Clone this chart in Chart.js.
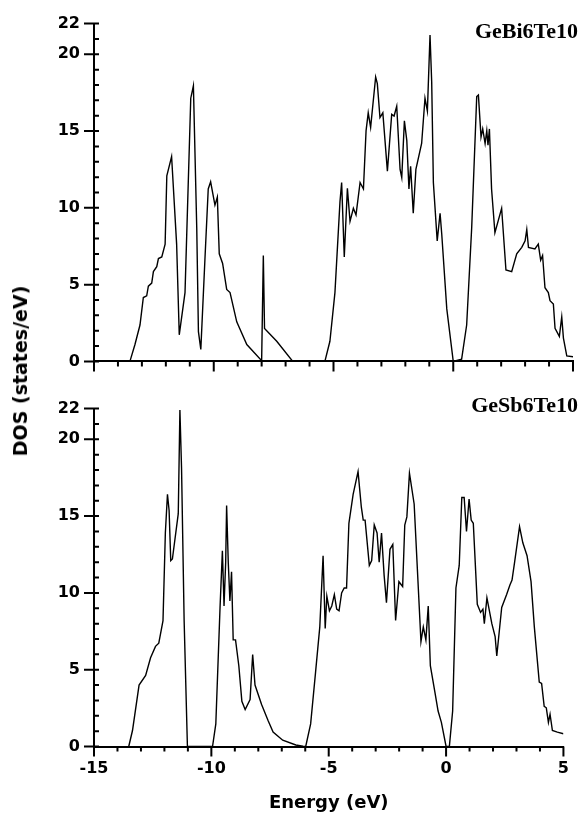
<!DOCTYPE html>
<html>
<head>
<meta charset="utf-8">
<script src="https://cdn.jsdelivr.net/npm/chart.js@4.4.0/dist/chart.umd.min.js"></script>
<style>
  body { margin: 0; background: #fff; }
  #wrap { position: relative; width: 582px; height: 816px; overflow: hidden; }
  canvas { position: absolute; left: 0; }
  #cTop { top: 0; }
  #cBot { top: 385px; }
  .name { position: absolute; right: 4px; font: bold 22px "Liberation Serif", serif; line-height: 1; white-space: nowrap; }
  #ytitle { position: absolute; left: 20px; top: 371px; transform: translate(-50%, -50%) rotate(-90deg);
            font: bold 19px "DejaVu Sans", sans-serif; white-space: nowrap; }
</style>
</head>
<body>
<div id="wrap">
  <canvas id="cTop" width="582" height="385"></canvas>
  <canvas id="cBot" width="582" height="431"></canvas>
  <div class="name" style="top:20px">GeBi6Te10</div>
  <div class="name" style="top:394px">GeSb6Te10</div>
  <div id="ytitle">DOS (states/eV)</div>
</div>
<script>
// GeBi6Te10 (top panel)
const energyTop = [-13.50,-13.29,-13.08,-12.94,-12.80,-12.73,-12.59,-12.52,-12.38,-12.31,-12.17,-12.03,-11.96,-11.76,-11.55,
  -11.44,-11.20,-10.96,-10.85,-10.71,-10.64,-10.54,-10.37,-10.23,-10.13,-9.95,-9.85,-9.77,-9.63,-9.46,
  -9.32,-9.04,-8.62,-8.00,-7.93,-7.88,-7.37,-6.70,
  -5.36,-5.15,-4.94,-4.73,-4.66,-4.55,-4.42,-4.31,-4.17,-4.06,-3.89,-3.75,-3.64,-3.55,-3.45,
  -3.24,-3.17,-3.06,-2.94,-2.75,-2.57,-2.47,-2.36,-2.22,-2.15,-2.04,-1.94,-1.85,-1.78,-1.67,
  -1.56,-1.32,-1.18,-1.08,-0.97,-0.90,-0.83,-0.67,-0.55,-0.48,-0.27,0.00,
  0.35,0.56,0.77,0.98,1.05,1.16,1.23,1.33,1.40,1.45,1.51,1.60,1.74,2.02,2.20,
  2.44,2.65,2.86,3.00,3.07,3.14,3.41,3.55,3.65,3.73,3.83,3.97,4.04,4.18,4.25,4.43,4.53,4.60,4.74,5.00];
const dosTop = [0,1.1,2.37,4.16,4.27,4.9,5.1,5.85,6.17,6.7,6.8,7.64,12.08,13.34,7.64,
  1.73,4.48,17.14,17.95,8.7,1.94,0.78,6.59,11.23,11.7,10.18,10.7,7.01,6.38,4.69,
  4.48,2.58,1.1,0.05,6.9,2.15,1.31,0,
  0,1.31,4.48,10.39,11.65,6.8,11.27,9.12,9.97,9.54,11.65,11.23,15.03,16.19,15.24,
  18.52,18.09,15.88,16.19,12.39,16.09,15.98,16.62,12.5,11.97,15.67,14.4,11.23,12.71,9.65,
  12.5,14.19,17.14,16.3,21.26,18.2,11.65,7.85,9.65,8.28,3.42,0,
  0.15,2.37,8.7,17.25,17.35,14.61,15.14,14.19,15.03,14.08,15.14,11.23,8.38,9.97,5.95,
  5.85,7.01,7.43,7.85,8.59,7.43,7.33,7.64,6.59,6.9,4.8,4.48,3.95,3.74,2.15,1.63,2.89,1.52,0.36,0.3];

// GeSb6Te10 (bottom panel)
const energyBot = [-13.52,-13.36,-13.08,-12.80,-12.59,-12.38,-12.24,-12.06,-11.96,-11.87,
  -11.80,-11.73,-11.66,-11.41,-11.34,-11.27,-11.16,-11.02,
  -9.95,-9.81,-9.63,-9.53,-9.46,-9.39,-9.35,-9.28,-9.21,-9.14,
  -9.07,-8.97,-8.83,-8.70,-8.56,-8.35,-8.24,-8.14,-7.86,-7.58,-7.37,-6.96,-6.40,-6.10,
  -5.98,-5.77,-5.56,-5.38,-5.24,-5.15,-5.08,-4.97,-4.87,-4.76,-4.66,-4.56,-4.45,-4.34,-4.24,
  -4.14,-3.96,-3.75,-3.61,-3.53,-3.45,-3.27,-3.17,-3.06,-2.94,-2.85,-2.75,-2.64,-2.54,-2.39,
  -2.27,-2.15,-2.01,-1.85,-1.76,-1.67,-1.56,-1.36,-1.07,-0.97,-0.86,-0.76,-0.67,-0.48,-0.34,-0.20,0.00,
  0.14,0.28,0.42,0.56,0.67,0.77,0.87,0.98,1.07,1.16,1.33,1.47,1.57,1.63,1.74,
  1.95,2.09,2.16,2.37,2.58,2.72,2.81,2.92,3.13,3.27,3.45,3.62,3.76,3.97,4.07,
  4.18,4.27,4.36,4.43,4.53,4.74,5.00];
const dosBot = [0,1.04,4.0,4.63,5.78,6.52,6.73,8.2,13.9,16.42,
  15.37,12.1,12.21,15.16,21.9,18.11,8.2,0,
  0,1.47,9.05,12.74,9.15,12.0,15.69,12.0,9.47,11.37,
  6.94,6.94,5.26,2.94,2.41,3.05,5.99,4.0,2.73,1.68,0.94,0.41,0.1,0.02,
  0,1.47,4.84,7.79,12.42,7.68,9.79,8.84,9.15,9.89,8.94,8.84,10.0,10.32,10.32,
  14.53,16.42,17.9,15.58,14.74,14.74,11.79,12.1,14.42,13.9,12.0,13.9,11.16,9.37,12.84,
  13.16,8.2,10.73,10.42,14.42,14.95,17.79,15.79,6.84,7.79,6.94,9.15,5.26,3.57,2.31,1.57,0,
  0,2.31,10.32,11.79,16.21,16.21,14.0,16.11,14.74,14.53,9.26,8.73,8.94,8.0,9.68,
  8.0,7.16,5.89,9.05,9.89,10.52,10.84,12.0,14.32,13.26,12.42,10.73,7.79,4.2,4.1,
  2.62,2.52,1.57,2.1,1.04,0.94,0.83];

const xTicks = [-15, -10, -5, 0, 5];
const yTicks = [0, 5, 10, 15, 20, 22];

Chart.defaults.font.family = '"DejaVu Sans", sans-serif';
Chart.defaults.color = '#000';

// short ticks: majors cross the y axis, minors point inwards
const tickMarks = {
  id: 'tickMarks',
  afterDraw(chart) {
    const { ctx, scales: { x, y } } = chart;
    ctx.save();
    ctx.strokeStyle = '#000';
    ctx.lineWidth = 2;
    ctx.beginPath();
    for (let v = -15; v <= 5; v++) {
      const px = x.getPixelForValue(v);
      ctx.moveTo(px, y.bottom);
      ctx.lineTo(px, y.bottom + (v % 5 === 0 ? 10 : 5));
    }
    for (let v = 0; v <= 22; v++) {
      const py = y.getPixelForValue(v);
      ctx.moveTo(yTicks.includes(v) ? x.left - 10 : x.left, py);
      ctx.lineTo(x.left + 5, py);
    }
    ctx.stroke();
    ctx.restore();
  }
};

function makePanel(id, energy, dos, bottom) {
  const pts = energy.map((e, i) => ({ x: e, y: dos[i] }));
  return new Chart(document.getElementById(id), {
    type: 'scatter',
    data: {
      datasets: [{
        data: pts,
        showLine: true,
        borderColor: '#000',
        borderWidth: 1.4,
        pointRadius: 0,
        tension: 0
      }]
    },
    options: {
      responsive: false,
      animation: false,
      devicePixelRatio: 1,
      layout: { padding: { top: bottom ? 13.3 : 23.3, right: 9, left: 0, bottom: 0 } },
      plugins: { legend: { display: false }, tooltip: { enabled: false } },
      scales: {
        x: {
          type: 'linear',
          min: -15, max: 5,
          afterBuildTicks: s => { s.ticks = xTicks.map(v => ({ value: v })); },
          afterFit: s => { s.height = bottom ? 69.5 : 14.3; },
          grid: { display: false, drawTicks: false },
          border: { display: true, color: '#000', width: 2 },
          ticks: { display: bottom, padding: 13, font: { size: 16, weight: 'bold' } },
          title: {
            display: bottom,
            text: 'Energy (eV)',
            font: { size: 18, weight: 'bold' },
            padding: { top: 0, bottom: 2 }
          }
        },
        y: {
          min: 0, max: 22,
          afterBuildTicks: s => { s.ticks = yTicks.map(v => ({ value: v })); },
          afterFit: s => { s.width = 94; },
          grid: { display: false, drawTicks: false },
          border: { display: true, color: '#000', width: 2 },
          ticks: { padding: 14, font: { size: 16, weight: 'bold' } }
        }
      }
    },
    plugins: [tickMarks]
  });
}

makePanel('cTop', energyTop, dosTop, false);
makePanel('cBot', energyBot, dosBot, true);
</script>
</body>
</html>
